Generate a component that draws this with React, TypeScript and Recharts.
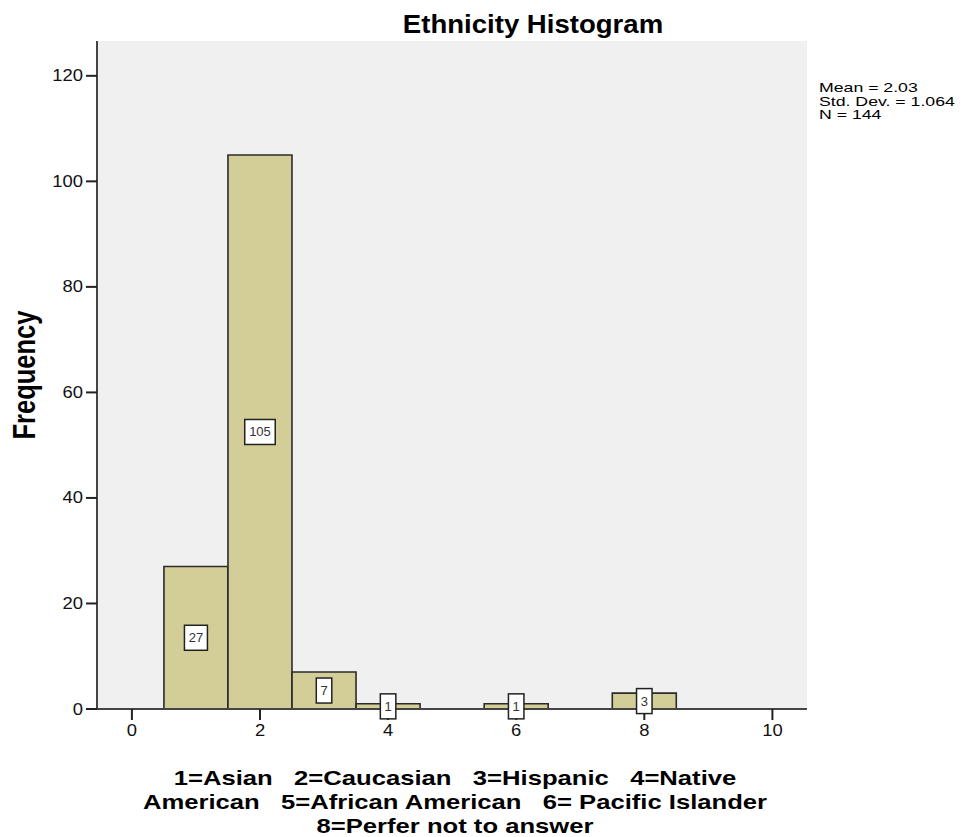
import { Bar, CartesianGrid, ComposedChart, LabelList, XAxis, YAxis } from 'recharts';

// ethnicity codes and how many respondents picked each one
const codes = [1, 2, 3, 4, 6, 8];
const counts = [27, 105, 7, 1, 1, 3];

const xTicks = [0, 2, 4, 6, 8, 10];
const yTicks = [0, 20, 40, 60, 80, 100, 120];

const statLines = ['Mean = 2.03', 'Std. Dev. = 1.064', 'N = 144'];
const xLabelLines = [
  '1=Asian   2=Caucasian   3=Hispanic   4=Native',
  'American   5=African American   6= Pacific Islander',
  '8=Perfer not to answer',
];

const rows = codes.map((code, i) => ({ code, count: counts[i] }));

const FONT = "'Liberation Sans', Arial, sans-serif";
const FRAME = '#444444';

function YTick({ x, y, payload }: any) {
  return (
    <text
      x={x}
      y={y}
      textAnchor="end"
      dominantBaseline="central"
      fontSize={16}
      fontFamily={FONT}
      fill="#111"
      transform={`translate(${x} ${y}) scale(1.15 1) translate(${-x} ${-y})`}
    >
      {payload.value}
    </text>
  );
}

function XTick({ x, y, payload }: any) {
  return (
    <text
      x={x}
      y={y}
      dy="0.71em"
      textAnchor="middle"
      fontSize={16}
      fontFamily={FONT}
      fill="#111"
      transform={`translate(${x} ${y}) scale(1.15 1) translate(${-x} ${-y})`}
    >
      {payload.value}
    </text>
  );
}

function CountBox({ x, y, width, height, value }: any) {
  const cx = x + width / 2;
  const cy = y + height / 2;
  const w = String(value).length * 7.5 + 8;
  return (
    <g>
      <rect x={cx - w / 2} y={cy - 12.5} width={w} height={25} fill="#fff" stroke="#222" strokeWidth={1.5} />
      <text x={cx} y={cy} textAnchor="middle" dominantBaseline="central" fontSize={13} fontFamily={FONT} fill="#333">
        {value}
      </text>
    </g>
  );
}

export default function App() {
  return (
    <div style={{ position: 'absolute', left: 0, top: 0, width: 967, height: 837, background: '#fff', fontFamily: FONT }}>
      <ComposedChart
        width={967}
        height={837}
        data={rows}
        margin={{ top: 41, right: 160, bottom: 0, left: 0 }}
        barCategoryGap={0}
        barGap={0}
      >
        <CartesianGrid fill="#f0f0f0" horizontal={false} vertical={false} />
        <XAxis
          type="number"
          dataKey="code"
          domain={[-0.545, 10.54]}
          ticks={xTicks}
          height={128}
          tickSize={11}
          tickMargin={5}
          tick={<XTick />}
          axisLine={{ stroke: FRAME, strokeWidth: 2 }}
          tickLine={{ stroke: '#222', strokeWidth: 2 }}
        />
        <YAxis
          type="number"
          domain={[0, 126.6]}
          ticks={yTicks}
          width={97}
          tickSize={11}
          tickMargin={3}
          tick={<YTick />}
          axisLine={{ stroke: FRAME, strokeWidth: 2 }}
          tickLine={{ stroke: '#222', strokeWidth: 2 }}
        />
        <XAxis
          xAxisId="top"
          orientation="top"
          type="number"
          domain={[0, 1]}
          height={0}
          tick={false}
          tickLine={false}
          axisLine={{ stroke: FRAME, strokeWidth: 2 }}
        />
        <YAxis
          yAxisId="right"
          orientation="right"
          type="number"
          domain={[0, 1]}
          width={0}
          tick={false}
          tickLine={false}
          axisLine={{ stroke: FRAME, strokeWidth: 2 }}
        />
        <Bar dataKey="count" fill="#d3ce97" stroke="#2b2b2b" strokeWidth={1.6} isAnimationActive={false}>
          <LabelList dataKey="count" content={<CountBox />} />
        </Bar>
      </ComposedChart>

      <div
        style={{
          position: 'absolute',
          left: 533,
          top: 9,
          fontSize: 26,
          lineHeight: '30px',
          fontWeight: 'bold',
          whiteSpace: 'nowrap',
          transform: 'translateX(-50%) scaleX(1.06)',
        }}
      >
        Ethnicity Histogram
      </div>

      <div
        style={{
          position: 'absolute',
          left: 24,
          top: 375,
          fontSize: 25.5,
          lineHeight: '30px',
          fontWeight: 'bold',
          whiteSpace: 'nowrap',
          transform: 'translate(-50%, -50%) rotate(-90deg) scale(1, 1.2)',
        }}
      >
        Frequency
      </div>

      <div style={{ position: 'absolute', left: 819, top: 81, fontSize: 13, lineHeight: '13.5px', whiteSpace: 'nowrap' }}>
        {statLines.map((s) => (
          <div key={s} style={{ transform: 'scaleX(1.36)', transformOrigin: 'left center' }}>
            {s}
          </div>
        ))}
      </div>

      <div style={{ position: 'absolute', left: 455, top: 766, fontWeight: 'bold', fontSize: 21, lineHeight: '24px' }}>
        {xLabelLines.map((s) => (
          <div
            key={s}
            style={{ whiteSpace: 'pre', textAlign: 'center', transform: 'translateX(-50%) scaleX(1.22)', width: 'max-content' }}
          >
            {s}
          </div>
        ))}
      </div>
    </div>
  );
}
